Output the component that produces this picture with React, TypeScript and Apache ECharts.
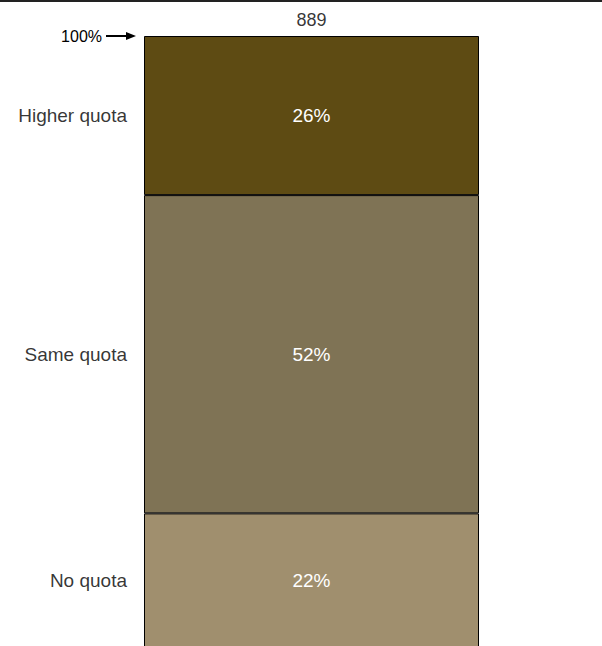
import React, { useEffect, useRef } from "react";
import * as echarts from "echarts";

const categories = ["All respondents"];
const segmentNames = ["No quota", "Same quota", "Higher quota"];
const segmentValues = [22, 52, 26];
const segmentColors = ["#A08F6E", "#7F7355", "#5E4B13"];
const totalLabel = "889";
const axisMax = 100;

const FONT = "Liberation Sans";

export default function App() {
  const ref = useRef<HTMLDivElement>(null);

  useEffect(() => {
    if (!ref.current) return;
    const chart = echarts.init(ref.current, null, { renderer: "svg" });

    const mids: number[] = [];
    let cum = 0;
    segmentValues.forEach((v) => {
      mids.push(cum + v / 2);
      cum += v;
    });

    const barSeries = segmentValues.map((v, i) => ({
      type: "bar",
      name: segmentNames[i],
      stack: "total",
      xAxisIndex: 0,
      yAxisIndex: 0,
      barWidth: 335,
      data: [v],
      itemStyle: {
        color: segmentColors[i],
        borderColor: "#000",
        borderWidth: 1,
      },
      label: {
        show: true,
        position: "inside",
        formatter: () => `${v}%`,
        color: "#fff",
        fontSize: 19,
        fontFamily: FONT,
      },
      silent: true,
    }));

    const nameSeries = {
      type: "scatter",
      xAxisIndex: 1,
      yAxisIndex: 0,
      symbolSize: 0,
      data: mids.map((m, i) => ({ value: [0, m], name: segmentNames[i] })),
      label: {
        show: true,
        position: "left",
        distance: 17,
        formatter: (p: any) => p.name,
        color: "#000",
        fontSize: 19,
        fontFamily: FONT,
      },
      silent: true,
    };

    const totalSeries = {
      type: "scatter",
      xAxisIndex: 0,
      yAxisIndex: 0,
      symbolSize: 0,
      data: [[0, axisMax]],
      label: {
        show: true,
        position: "top",
        distance: 7,
        formatter: () => totalLabel,
        color: "#000",
        fontSize: 18,
        fontFamily: FONT,
      },
      silent: true,
    };

    chart.setOption({
      animation: false,
      backgroundColor: "#fff",
      grid: { left: 144, top: 36, width: 335, height: 612 },
      xAxis: [
        { type: "category", data: categories, show: false },
        { type: "value", min: 0, max: 1, show: false },
      ],
      yAxis: {
        type: "value",
        min: 0,
        max: axisMax,
        interval: 100,
        axisLine: { show: false },
        axisTick: { show: false },
        splitLine: { show: false },
        axisLabel: {
          margin: 42,
          fontSize: 16,
          fontFamily: FONT,
          color: "#000",
          formatter: (v: number) => (v === axisMax ? "100%" : ""),
        },
      },
      graphic: [
        {
          type: "line",
          shape: { x1: 0, y1: 1, x2: 602, y2: 1 },
          style: { stroke: "#222", lineWidth: 2 },
        },
        {
          type: "line",
          shape: { x1: 106, y1: 36, x2: 128, y2: 36 },
          style: { stroke: "#000", lineWidth: 2 },
        },
        {
          type: "polygon",
          shape: { points: [[126, 32], [136, 36], [126, 40]] },
          style: { fill: "#000" },
        },
      ],
      series: [...barSeries, nameSeries, totalSeries],
    });

    return () => chart.dispose();
  }, []);

  return (
    <div
      style={{
        position: "fixed",
        left: 0,
        top: 0,
        width: 602,
        height: 646,
        overflow: "hidden",
        background: "#fff",
      }}
    >
      <div ref={ref} style={{ width: 602, height: 650 }} />
    </div>
  );
}
